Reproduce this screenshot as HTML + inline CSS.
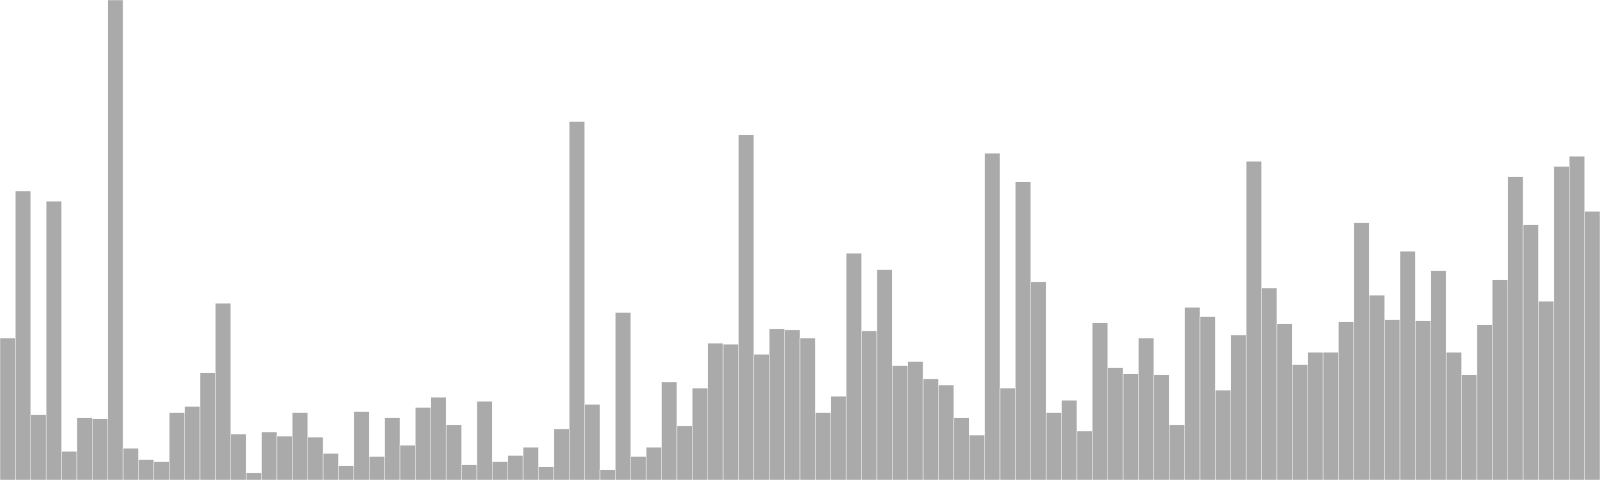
<!DOCTYPE html>
<html><head><meta charset="utf-8"><style>html,body{margin:0;padding:0;background:#fff;overflow:hidden}svg{display:block}</style></head>
<body>
<svg id="chart" width="1600" height="480" viewBox="0 0 1568 470" preserveAspectRatio="none" xmlns="http://www.w3.org/2000/svg"></svg>
<script>
const categories = Array.from({length:104},(_,i)=>'c'+(i+1));
const values = [139,283,64,273,28,61,60,470,31,20,18,66,72,105,173,45,7,47,43,66,42,26,14,67,23,61,34,71,81,54,15,77,18,24,32,13,50,351,74,10,164,23,32,96,53,90,134,133,338,123,148,147,139,66,82,222,146,206,112,116,99,93,61,44,320,90,292,194,66,78,48,154,110,104,139,103,54,169,160,88,142,312,188,153,113,125,125,155,252,181,157,224,156,205,125,103,152,196,297,250,175,307,317,263];
const maxVal = 470;
const W = 1568, H = 470;
const svg = document.getElementById('chart');
const bw = W / values.length;
const x = i => i * bw;
const y = v => H - v / maxVal * H;
values.forEach((v,i)=>{
  const r = document.createElementNS('http://www.w3.org/2000/svg','rect');
  r.setAttribute('x', x(i));
  r.setAttribute('y', y(v));
  r.setAttribute('width', bw);
  r.setAttribute('height', H - y(v));
  r.setAttribute('fill', '#aaaaaa');
  r.setAttribute('stroke', '#ffffff');
  r.setAttribute('stroke-width', '0.4');
  
  
  svg.appendChild(r);
});
</script>
</body></html>
